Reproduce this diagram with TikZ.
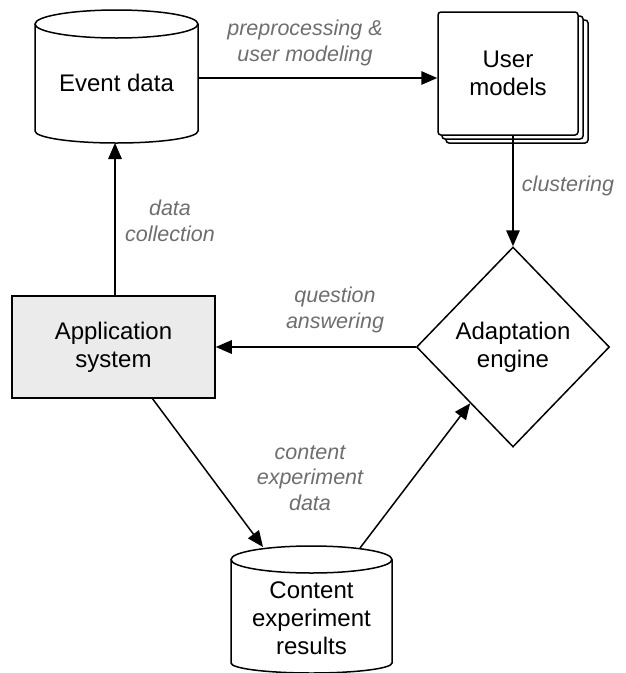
\documentclass[tikz,border=0pt]{standalone}
\usepackage{fontspec}
\setmainfont{Liberation Sans}
\usetikzlibrary{arrows.meta,shapes.geometric}
\definecolor{labelgray}{RGB}{110,110,110}
\definecolor{appfill}{RGB}{235,235,235}
\begin{document}
\begin{tikzpicture}[x=1pt,y=1pt,line width=1.5pt,
  txt/.style={font=\fontsize{24}{28}\selectfont,align=center,inner sep=0pt},
  lbl/.style={font=\fontsize{21.5}{25.5}\selectfont\itshape,text=labelgray,align=center,inner sep=0pt},
  arr/.style={-{Triangle[length=16pt,width=13.5pt]},line width=1.5pt}]
\useasboundingbox (0,0) rectangle (625,-673);

% Event data cylinder
\draw[fill=white] (35,-24) -- (35,-131) arc[start angle=180,end angle=360,x radius=81.5pt,y radius=12pt] -- (198,-24);
\draw[fill=white] (116.5,-24) ellipse[x radius=81.5pt,y radius=14pt];
\node[txt] (ed) at (116.5,-83) {Event data};
\coordinate (ede) at (198,-78);
\coordinate (edb) at (115,-143);

% User models (stacked)
\draw[fill=white,rounded corners=3pt] (446,-20) rectangle (588,-143);
\draw[fill=white,rounded corners=3pt] (442,-16) rectangle (583,-139);
\node[draw,fill=white,rounded corners=3pt,minimum width=140pt,minimum height=123pt,txt] (um) at (508,-73.5) {User\\models};

% Adaptation engine
\node[draw,diamond,minimum width=193pt,minimum height=200pt,inner sep=0pt,txt] (ae) at (513,-347) {Adaptation\\engine};

% Application system
\node[draw,fill=appfill,minimum width=203pt,minimum height=102pt,txt] (app) at (113.5,-347) {Application\\system};

% Content experiment results cylinder
\draw[fill=white] (231,-559.5) -- (231,-663) arc[start angle=180,end angle=360,x radius=80.5pt,y radius=10pt] -- (392,-559.5);
\draw[fill=white] (311.5,-559.5) ellipse[x radius=80.5pt,y radius=13.5pt];
\node[txt] (cer) at (311.5,-618) {Content\\experiment\\results};
\coordinate (cerl) at (263,-547);
\coordinate (cerr) at (360,-548);
\coordinate (apps) at (152,-398);

% Connectors
\draw[arr] (ede) -- (ede -| um.west);
\draw[arr] (ae.north |- um.south) -- (ae.north);
\draw[arr] (ae.west) -- (app.east);
\draw[arr] (edb |- app.north) -- (edb);
\draw[arr] (apps) -- (cerl);
\draw[arr] (cerr) -- (ae);

% Labels
\node[lbl] (l1) at (305,-43) {preprocessing \&\\user modeling};
\node[lbl] (l2) at (568,-186) {clustering};
\node[lbl] (l3) at (335,-310) {question\\answering};
\node[lbl] (l4) at (170,-221) {data\\collection};
\node[lbl] (l5) at (310,-478) {content\\experiment\\data};
\end{tikzpicture}
\end{document}
